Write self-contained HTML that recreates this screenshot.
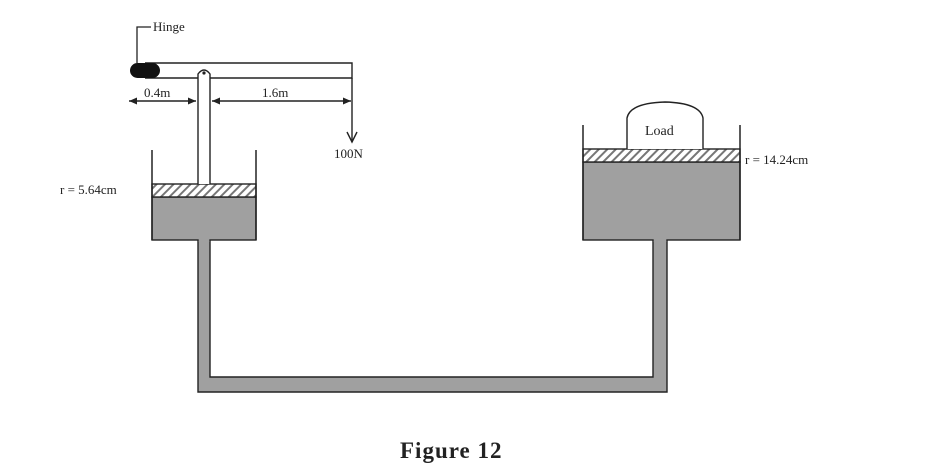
<!DOCTYPE html>
<html><head><meta charset="utf-8"><style>
html,body{margin:0;padding:0;background:#fff;width:926px;height:470px;overflow:hidden}
svg{display:block}
text{font-family:"Liberation Serif",serif;fill:#222}
</style></head><body>
<svg width="926" height="470" viewBox="0 0 926 470" xmlns="http://www.w3.org/2000/svg">
<defs>
<pattern id="h" width="6" height="6" patternUnits="userSpaceOnUse" patternTransform="rotate(45)">
<rect width="6" height="6" fill="#fff"/><rect width="2" height="6" fill="#777"/>
</pattern>
</defs>
<!-- pipe -->
<path d="M198,240 L198,392 L667,392 L667,240 L653,240 L653,377 L210,377 L210,240 Z" fill="#a0a0a0" stroke="#222" stroke-width="1.4"/>
<!-- left cylinder -->
<rect x="152" y="197" width="104" height="43" fill="#a0a0a0" stroke="#222" stroke-width="1.4"/>
<rect x="152" y="184" width="104" height="13" fill="url(#h)" stroke="#222" stroke-width="1.4"/>
<line x1="152" y1="150" x2="152" y2="240" stroke="#222" stroke-width="1.5"/>
<line x1="256" y1="150" x2="256" y2="240" stroke="#222" stroke-width="1.5"/>
<rect x="198.7" y="238" width="10.6" height="4" fill="#a0a0a0"/>
<!-- lever -->
<path d="M145,63 L352,63 L352,78 L145,78" fill="#fff" stroke="#222" stroke-width="1.4"/>
<!-- rod -->
<path d="M198,184 L198,74 Q204,66 210,74 L210,184" fill="#fff" stroke="#222" stroke-width="1.4"/>
<circle cx="204" cy="73" r="1.6" fill="#222"/>
<rect x="130" y="63" width="30" height="15" rx="7.5" fill="#111"/>
<!-- hinge label -->
<path d="M137,63 L137,27 L151,27" fill="none" stroke="#222" stroke-width="1.3"/>
<text x="153" y="31" font-size="13">Hinge</text>
<!-- dimensions -->
<line x1="129" y1="101" x2="196" y2="101" stroke="#222" stroke-width="1.4"/>
<path d="M129,101 l8,-3.5 v7 z M196,101 l-8,-3.5 v7 z M212,101 l8,-3.5 v7 z M351,101 l-8,-3.5 v7 z" fill="#222"/>
<line x1="212" y1="101" x2="351" y2="101" stroke="#222" stroke-width="1.4"/>
<text x="144" y="97" font-size="13">0.4m</text>
<text x="262" y="97" font-size="13">1.6m</text>
<!-- force arrow -->
<line x1="352" y1="78" x2="352" y2="142" stroke="#222" stroke-width="1.4"/>
<path d="M347,132 L352,142 L357,132" fill="none" stroke="#222" stroke-width="1.4"/>
<text x="334" y="158" font-size="13">100N</text>
<text x="60" y="194" font-size="13">r = 5.64cm</text>
<!-- right cylinder -->
<rect x="583" y="162" width="157" height="78" fill="#a0a0a0" stroke="#222" stroke-width="1.4"/>
<rect x="583" y="149" width="157" height="13" fill="url(#h)" stroke="#222" stroke-width="1.4"/>
<line x1="583" y1="125" x2="583" y2="240" stroke="#222" stroke-width="1.5"/>
<line x1="740" y1="125" x2="740" y2="240" stroke="#222" stroke-width="1.5"/>
<rect x="653.7" y="238" width="12.6" height="4" fill="#a0a0a0"/>
<path d="M627,149 L627,118 Q630,103 665,102 Q700,103 703,118 L703,149" fill="#fff" stroke="#222" stroke-width="1.4"/>
<text x="645" y="135" font-size="14">Load</text>
<text x="745" y="164" font-size="13">r = 14.24cm</text>
<!-- caption -->
<text x="400" y="458" font-size="23" font-weight="bold" letter-spacing="1">Figure 12</text>
</svg>
</body></html>
